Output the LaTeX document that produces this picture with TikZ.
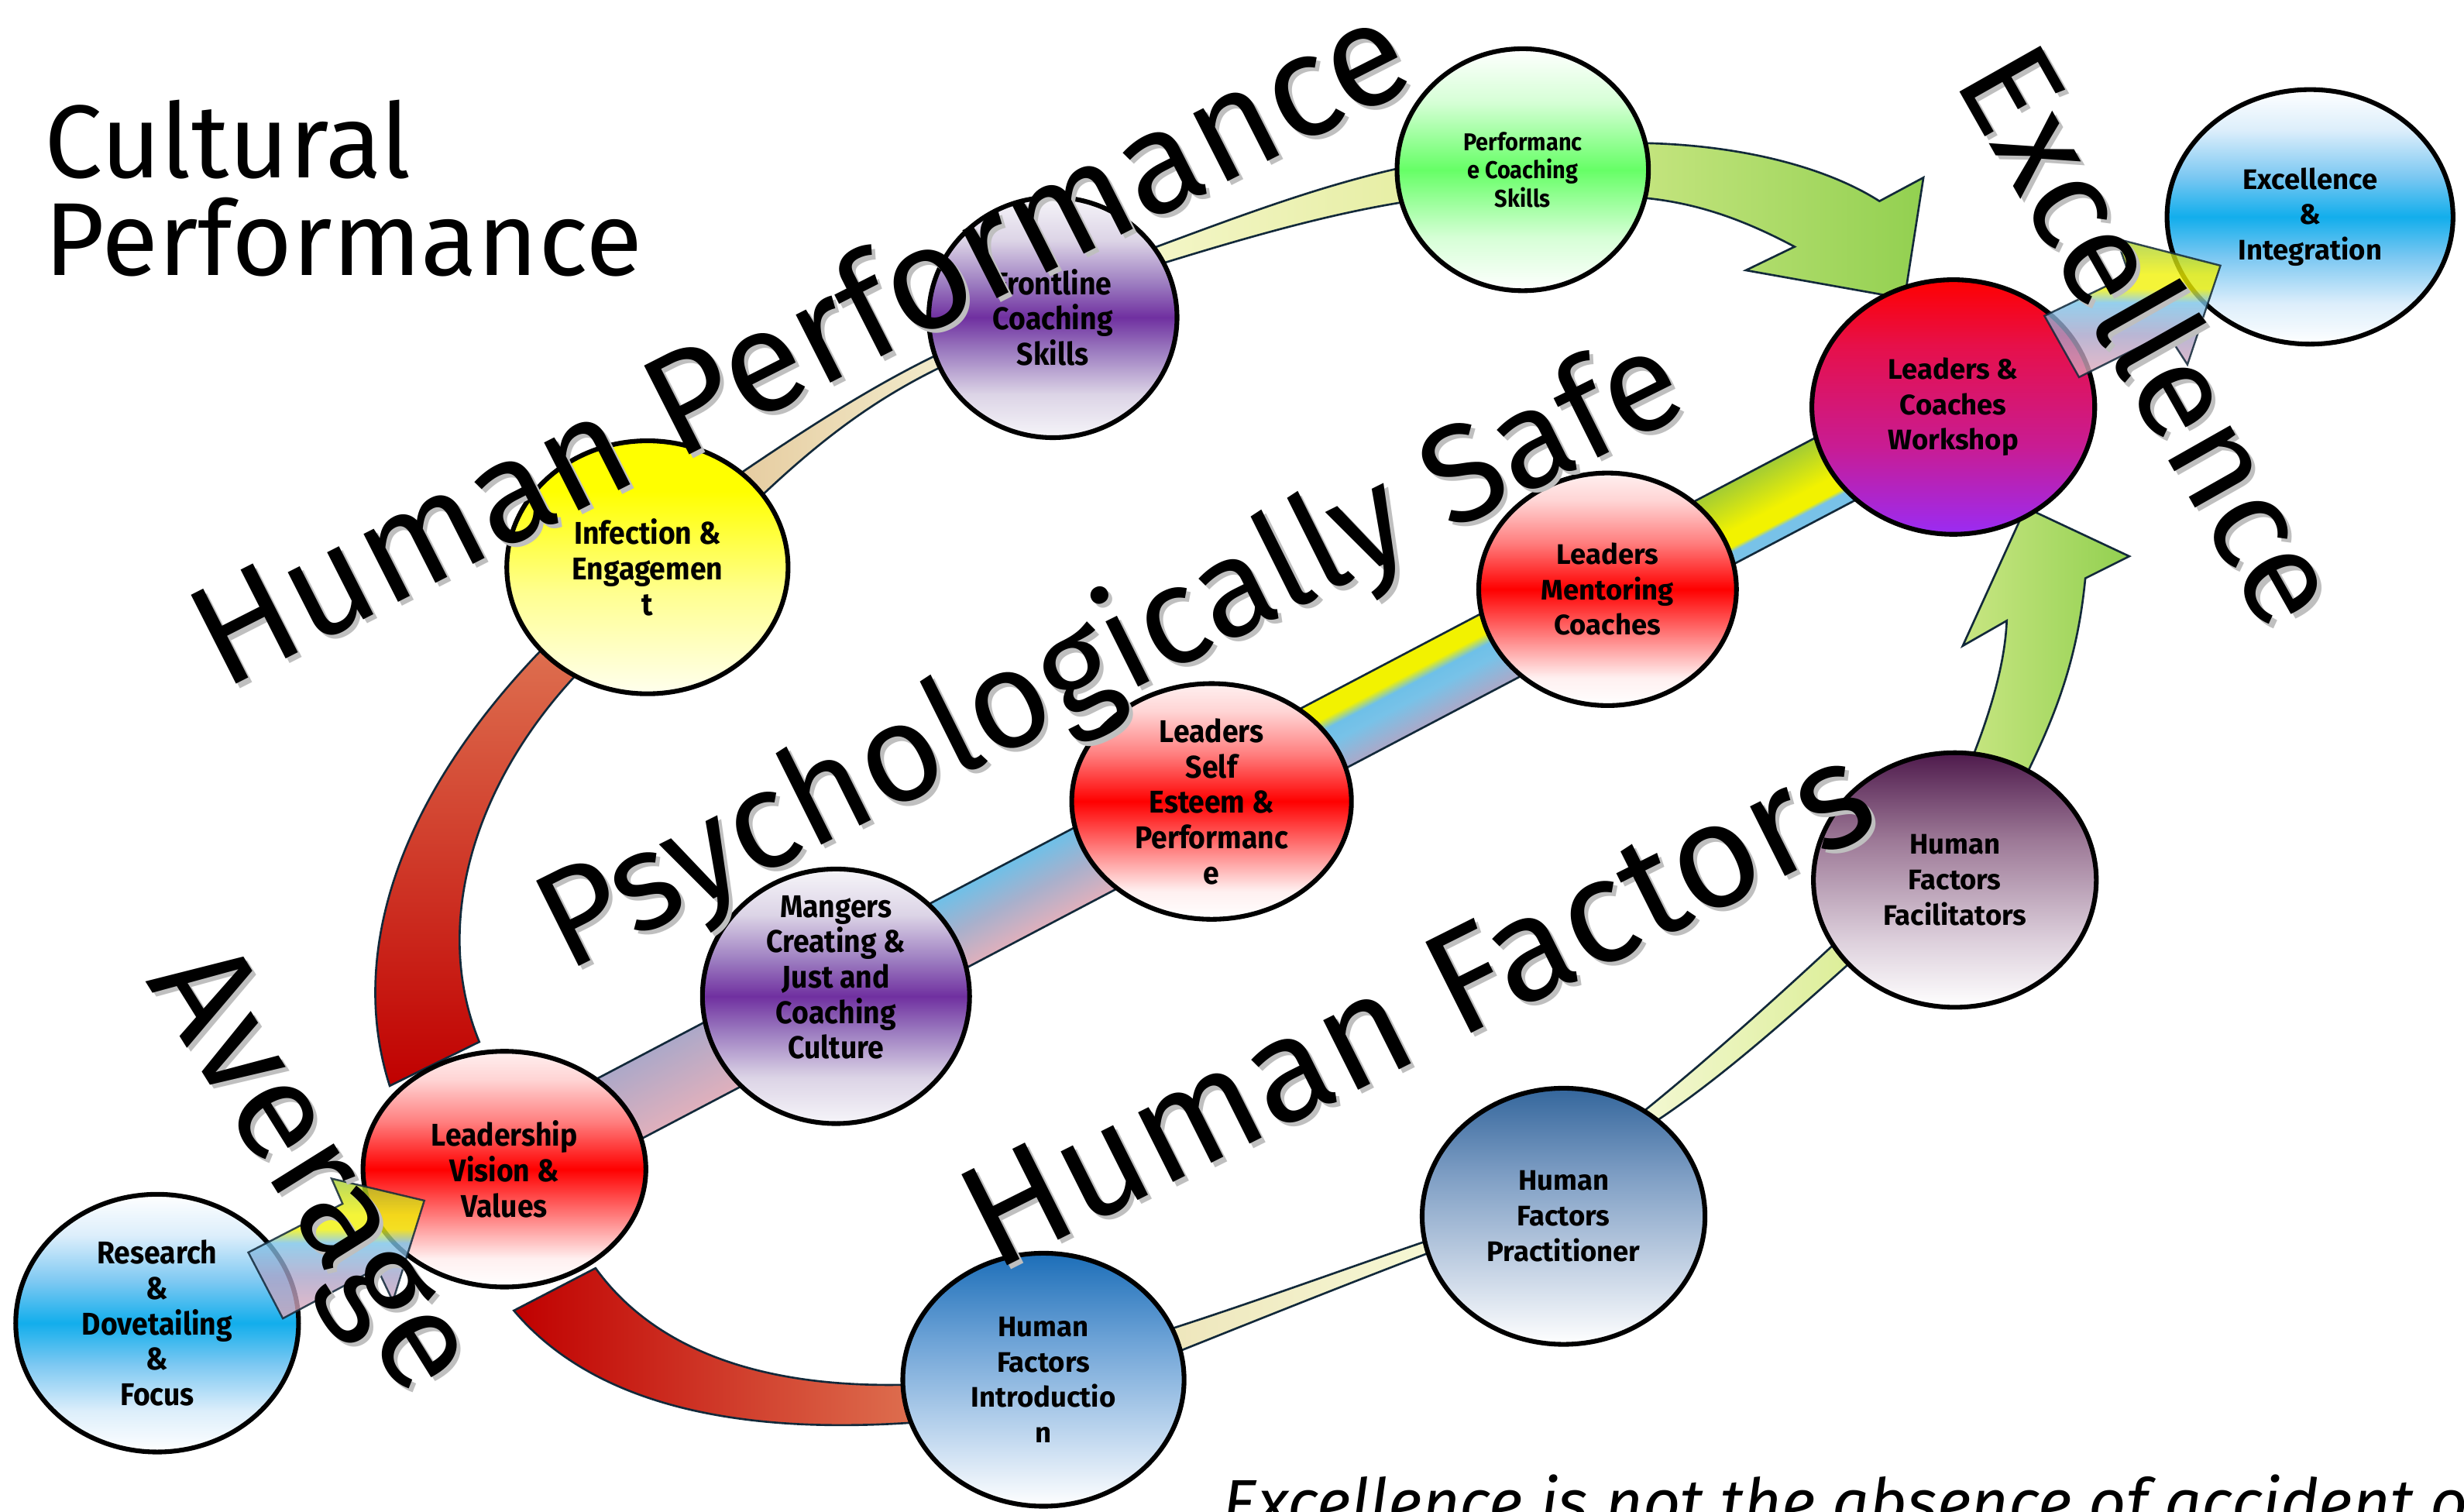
\documentclass[tikz,border=0pt]{standalone}
\usepackage{fontspec}
\usetikzlibrary{shapes.geometric}
\newfontfamily\condfont{Fira Sans}[FakeStretch=0.92]
\newfontfamily\widefont{Fira Sans}
\newfontfamily\handfont{Fira Sans}
\definecolor{navy}{HTML}{12293A}
\definecolor{rb0}{HTML}{FFF0F0}
\definecolor{rb1}{HTML}{FFD4D4}
\definecolor{rb2}{HTML}{FF7E7E}
\definecolor{bb1}{HTML}{DCEEFB}
\definecolor{bb2}{HTML}{7CC8F2}
\definecolor{bb3}{HTML}{12AEEC}
\definecolor{pb0}{HTML}{F6F5F9}
\definecolor{pb1}{HTML}{DCD4E6}
\definecolor{pb2}{HTML}{9C7CC0}
\definecolor{pb3}{HTML}{7030A0}
\definecolor{gb1}{HTML}{D6FFD6}
\definecolor{gb2}{HTML}{66FF66}
\definecolor{yb0}{HTML}{FFFFEE}
\definecolor{yb1}{HTML}{FFFF90}
\definecolor{yb2}{HTML}{FFFF00}
\definecolor{wk0}{HTML}{9A2CF4}
\definecolor{wk1}{HTML}{C81C94}
\definecolor{wk2}{HTML}{E6104A}
\definecolor{wk3}{HTML}{FF0000}
\definecolor{hf0}{HTML}{4E1A4C}
\definecolor{hf1}{HTML}{9C7896}
\definecolor{hf2}{HTML}{DDD0DC}
\definecolor{hp0}{HTML}{34669C}
\definecolor{hp1}{HTML}{7E9EC4}
\definecolor{hp2}{HTML}{CCD8E8}
\definecolor{hi0}{HTML}{1C6EB8}
\definecolor{hi1}{HTML}{6CA2D6}
\definecolor{hi2}{HTML}{C4DAF0}
\definecolor{apink}{HTML}{E6A8B8}
\definecolor{alilac}{HTML}{A8A2C8}
\definecolor{asky}{HTML}{78C2E8}
\definecolor{ayel}{HTML}{F2F200}
\definecolor{agreen}{HTML}{A2CC34}
\definecolor{dpink}{HTML}{E0B0BC}
\definecolor{dlilac}{HTML}{ACA8C8}
\definecolor{dmid}{HTML}{A8B0CC}
\definecolor{dsky}{HTML}{6EC0E8}
\definecolor{gA}{HTML}{C8E682}
\definecolor{gB}{HTML}{92D050}
\definecolor{rA}{HTML}{C00000}
\definecolor{rB}{HTML}{DE7050}
\definecolor{tA}{HTML}{E6CCA0}
\definecolor{tB}{HTML}{F2ECCC}
\definecolor{tC}{HTML}{F4F6C8}
\definecolor{tD}{HTML}{E6EEA4}
\definecolor{tE}{HTML}{EEE6BC}
\definecolor{tF}{HTML}{F6F8D4}
\definecolor{tG}{HTML}{F4F8D4}
\definecolor{tH}{HTML}{DCEE98}
\pgfdeclareverticalshading{redball}{100bp}{color(0bp)=(white); color(25bp)=(white); color(31bp)=(rb0); color(40bp)=(rb2); color(50bp)=(red); color(60bp)=(rb2); color(69bp)=(rb1); color(75bp)=(rb0); color(100bp)=(rb0)}
\pgfdeclareverticalshading{blueball}{100bp}{color(0bp)=(white); color(25bp)=(white); color(33bp)=(bb1); color(42bp)=(bb2); color(50bp)=(bb3); color(58bp)=(bb2); color(67bp)=(bb1); color(75bp)=(white); color(100bp)=(white)}
\pgfdeclareverticalshading{purpball}{100bp}{color(0bp)=(pb0); color(25bp)=(pb0); color(34bp)=(pb1); color(43bp)=(pb2); color(50bp)=(pb3); color(57bp)=(pb2); color(66bp)=(pb1); color(75bp)=(pb0); color(100bp)=(pb0)}
\pgfdeclareverticalshading{greenball}{100bp}{color(0bp)=(white); color(25bp)=(white); color(36bp)=(gb1); color(50bp)=(gb2); color(64bp)=(gb1); color(75bp)=(white); color(100bp)=(white)}
\pgfdeclareverticalshading{yellowball}{100bp}{color(0bp)=(yb0); color(25bp)=(yb0); color(45bp)=(yb1); color(65bp)=(yb2); color(100bp)=(yb2)}
\pgfdeclareverticalshading{workball}{100bp}{color(0bp)=(wk0); color(25bp)=(wk0); color(42bp)=(wk1); color(62bp)=(wk2); color(75bp)=(wk3); color(100bp)=(wk3)}
\pgfdeclareverticalshading{facball}{100bp}{color(0bp)=(white); color(25bp)=(white); color(38bp)=(hf2); color(58bp)=(hf1); color(75bp)=(hf0); color(100bp)=(hf0)}
\pgfdeclareverticalshading{pracball}{100bp}{color(0bp)=(white); color(25bp)=(white); color(38bp)=(hp2); color(58bp)=(hp1); color(75bp)=(hp0); color(100bp)=(hp0)}
\pgfdeclareverticalshading{introball}{100bp}{color(0bp)=(white); color(25bp)=(white); color(38bp)=(hi2); color(58bp)=(hi1); color(75bp)=(hi0); color(100bp)=(hi0)}
\pgfdeclareverticalshading{arrowgrad}{100bp}{color(0bp)=(apink); color(25bp)=(apink); color(40bp)=(alilac); color(52bp)=(asky); color(57bp)=(ayel); color(62bp)=(ayel); color(75bp)=(agreen); color(100bp)=(agreen)}
\pgfdeclareverticalshading{dsegA}{100bp}{color(0bp)=(dpink); color(25bp)=(dpink); color(75bp)=(dlilac); color(100bp)=(dlilac)}
\pgfdeclareverticalshading{dsegB}{100bp}{color(0bp)=(dpink); color(25bp)=(dpink); color(50bp)=(dmid); color(75bp)=(dsky); color(100bp)=(dsky)}
\pgfdeclareverticalshading{dsegC}{100bp}{color(0bp)=(dlilac); color(25bp)=(dlilac); color(45bp)=(asky); color(55bp)=(dsky); color(62bp)=(ayel); color(75bp)=(ayel); color(100bp)=(ayel)}
\pgfdeclareverticalshading{dsegD}{100bp}{color(0bp)=(asky); color(25bp)=(asky); color(33bp)=(asky); color(36bp)=(ayel); color(46bp)=(ayel); color(75bp)=(agreen); color(100bp)=(agreen)}
\begin{document}
\begin{tikzpicture}[x=1pt,y=-1pt,
  ball/.style={ellipse, draw=black, line width=3pt, inner sep=0pt, shade},
  ctxt/.style={font=\condfont\bfseries\fontsize{20}{22.5}\selectfont, align=center, inner sep=0pt},
  wtxt/.style={font=\widefont\bfseries\fontsize{18}{22.5}\selectfont, align=center, inner sep=0pt},
  big/.style={font=\handfont\fontsize{90}{94}\selectfont, inner sep=0pt},
  bigshadow/.style={big, text=black!25},
  band/.style={draw=navy, line width=1.3pt},
  blockarrow/.style={draw=navy, line width=1.2pt, shade, shading=arrowgrad, fill opacity=0.78, draw opacity=0.85}
]
\path[use as bounding box] (0,0) rectangle (1568,962);
\clip (0,0) rectangle (1568,962);
\fill[white] (0,0) rectangle (1568,962);

% ---------- thin connector bands ----------
\shade[band, left color=tA, right color=tB] (470,302) .. controls (520,268) and (560,243) .. (600,224) -- (602,232) .. controls (560,252) and (525,277) .. (482,318) -- cycle;
\shade[band, left color=tC, right color=tD] (728,160) .. controls (790,137) and (840,118) .. (895,106) -- (897,128) .. controls (845,136) and (790,152) .. (732,170) -- cycle;
\shade[band, left color=tE, right color=tF] (744,846) .. controls (800,828) and (860,806) .. (910,789) -- (910,797) .. controls (860,816) and (800,840) .. (750,860) -- cycle;
\shade[band, left color=tG, right color=tH] (1040,712) .. controls (1080,680) and (1125,640) .. (1168,600) -- (1178,612) .. controls (1130,655) and (1090,690) .. (1050,716) -- cycle;

% ---------- red bands ----------
\shade[band, bottom color=rA, top color=rB] (248,691) .. controls (222,610) and (250,510) .. (348,410) -- (368,428) .. controls (300,500) and (275,590) .. (305,663) -- cycle;
\shade[band, left color=rA, right color=rB] (327,834) .. controls (370,885) and (450,915) .. (585,905) -- (583,881) .. controls (470,885) and (410,850) .. (379,807) -- cycle;

% ---------- green curved arrows ----------
\shade[band, left color=gA, right color=gB] (1030,91) .. controls (1100,90) and (1160,105) .. (1196,128) -- (1224,113) -- (1212,190) -- (1111,172) -- (1142,157) .. controls (1110,140) and (1075,126) .. (1030,125) -- cycle;
\shade[band, left color=gA, right color=gB] (1254,485) .. controls (1268,450) and (1276,420) .. (1277,395) -- (1249,411) -- (1289,323) -- (1355,354) -- (1327,368) .. controls (1322,420) and (1308,455) .. (1289,494) -- cycle;

% ---------- diagonal band ----------
\begin{scope}[transform canvas={shift={(321,744)}, rotate=27.75}]
  \shade[shading=dsegA] (0,-23.5) rectangle (238,23.5);
  \shade[shading=dsegB] (238,-23.5) rectangle (507,23.5);
  \shade[shading=dsegC] (507,-23.5) rectangle (793,23.5);
  \shade[shading=dsegD] (793,-23.5) rectangle (1042,23.5);
  \draw[navy, line width=1.3pt] (0,-23.5) -- (1042,-23.5) (0,23.5) -- (1042,23.5);
\end{scope}

% ---------- nodes ----------
\node[ball, shading=blueball, minimum width=180pt, minimum height=164pt] (res) at (100,842) {};
\node[ball, shading=redball, minimum width=180pt, minimum height=150pt] (lead) at (321,744) {};
\node[ball, shading=purpball, minimum width=170pt, minimum height=162pt] (mang) at (532,634) {};
\node[ball, shading=redball, minimum width=178pt, minimum height=150pt] (self) at (771,510) {};
\node[ball, shading=redball, minimum width=164pt, minimum height=148pt] (ment) at (1023,375) {};
\node[ball, shading=workball, minimum width=180pt, minimum height=162pt] (work) at (1243,259) {};
\node[ball, shading=blueball, minimum width=182pt, minimum height=162pt] (exc) at (1470,138) {};
\node[ball, shading=yellowball, minimum width=179pt, minimum height=161pt] (inf) at (412,361) {};
\node[ball, shading=purpball, minimum width=158pt, minimum height=153pt] (front) at (670,202) {};
\node[ball, shading=greenball, minimum width=160pt, minimum height=154pt] (perf) at (969,108) {};
\node[ball, shading=facball, minimum width=180pt, minimum height=162pt] (fac) at (1244,560) {};
\node[ball, shading=pracball, minimum width=180pt, minimum height=163pt] (prac) at (995,774) {};
\node[ball, shading=introball, minimum width=179pt, minimum height=161pt] (intro) at (664,878) {};

\node[ctxt] at (res) {Research\\\&\\Dovetailing\\\&\\Focus};
\node[ctxt] at (lead) {Leadership\\Vision \&\\Values};
\node[ctxt] at ([yshift=12pt]mang.center) {Mangers\\Creating \&\\Just and\\Coaching\\Culture};
\node[ctxt] at (self) {Leaders\\Self\\Esteem \&\\Performanc\\e};
\node[wtxt] at (ment) {Leaders\\Mentoring\\Coaches};
\node[wtxt] at (work) {Leaders \&\\Coaches\\Workshop};
\node[wtxt] at (exc) {Excellence\\\&\\Integration};
\node[ctxt] at (inf) {Infection \&\\Engagemen\\t};
\node[ctxt] at (front) {Frontline\\Coaching\\Skills};
\node[ctxt, font=\condfont\bfseries\fontsize{15.5}{18}\selectfont] at (perf) {Performanc\\e Coaching\\Skills};
\node[wtxt] at (fac) {Human\\Factors\\Facilitators};
\node[wtxt] at (prac) {Human\\Factors\\Practitioner};
\node[wtxt] at (intro) {Human\\Factors\\Introductio\\n};

% ---------- small block arrows ----------
\path[blockarrow] (158,797) -- (218,766) -- (211,750) -- (270,764) -- (250,828) -- (240,807) -- (180,839) -- cycle;
\path[blockarrow] (1301,201) -- (1355,175) -- (1347,152) -- (1413,169) -- (1392,232) -- (1379,212) -- (1323,240) -- cycle;

% ---------- big handwritten words ----------
\node[bigshadow, font=\handfont\fontsize{92}{96}\selectfont, rotate=26.9, anchor=base] at (525.5,249) {Human Performance};
\node[big, font=\handfont\fontsize{92}{96}\selectfont, rotate=26.9, anchor=base] (hp) at (523,246.5) {Human Performance};
\node[bigshadow, font=\handfont\fontsize{88}{92}\selectfont, rotate=26.5, anchor=base] at (721.5,442.5) {Psychologically Safe};
\node[big, font=\handfont\fontsize{88}{92}\selectfont, rotate=26.5, anchor=base] (ps) at (719,440) {Psychologically Safe};
\node[bigshadow, font=\handfont\fontsize{94}{98}\selectfont, rotate=26.6, anchor=base] at (918,670.5) {Human Factors};
\node[big, font=\handfont\fontsize{94}{98}\selectfont, rotate=26.6, anchor=base] (hf) at (915.5,668) {Human Factors};
\node[bigshadow, font=\handfont\fontsize{86}{90}\selectfont, rotate=-60.5, anchor=base] at (1345.5,230.5) {Excellence};
\node[big, font=\handfont\fontsize{86}{90}\selectfont, rotate=-60.5, anchor=base] (ex) at (1343,228) {Excellence};
\node[bigshadow, font=\handfont\fontsize{89}{93}\selectfont, rotate=-58, anchor=base] at (178.5,760.5) {Average};
\node[big, font=\handfont\fontsize{89}{93}\selectfont, rotate=-58, anchor=base] (av) at (176,758) {Average};

\node[font=\handfont\fontsize{66}{62}\selectfont, anchor=base west, inner sep=0pt] (cul1) at (28,113) {Cultural};
\node[font=\handfont\fontsize{66}{62}\selectfont, anchor=base west, inner sep=0pt] (cul2) at (28,175) {Performance};
\node[font=\handfont\itshape\fontsize{41.5}{44}\selectfont, anchor=base west, inner sep=0pt] (quote) at (778,971) {Excellence is not the absence of accident or};
\end{tikzpicture}
\end{document}
